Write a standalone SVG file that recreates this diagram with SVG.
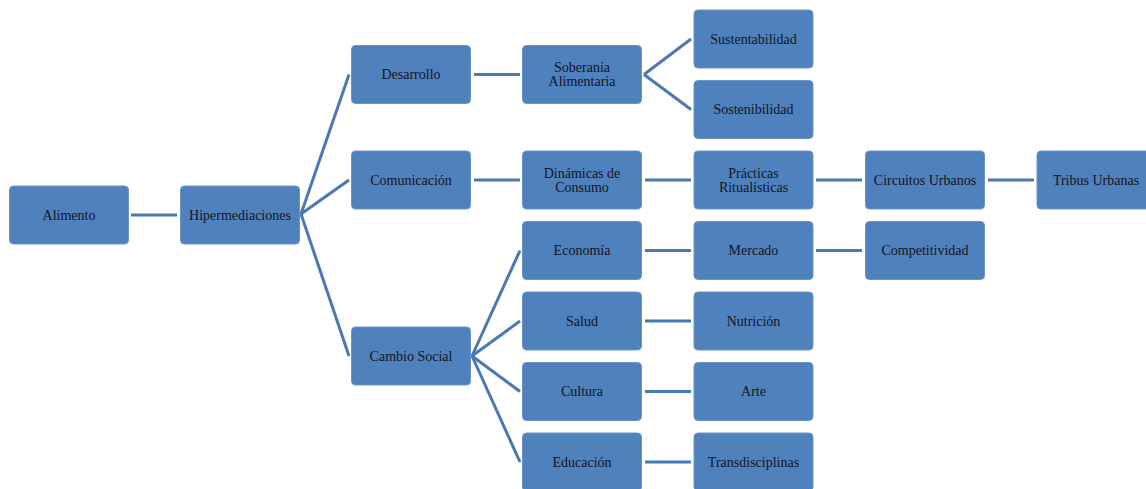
<svg xmlns="http://www.w3.org/2000/svg" width="1146" height="489" viewBox="0 0 1146 489">
<style>
.n rect{fill:#4f81bd;stroke:#6a94c8;stroke-width:1}
.n text{font-family:"Liberation Serif","DejaVu Serif",serif;font-size:14px;fill:#14141f;text-anchor:middle;dominant-baseline:central}
#connectors line{stroke:#4a78b2;stroke-width:3;fill:none}
</style>
<rect width="1146" height="489" fill="#ffffff"/>
<g id="connectors">
<line x1="131" y1="215" x2="177" y2="215"/>
<line x1="301" y1="214" x2="349" y2="74.5"/>
<line x1="301" y1="214" x2="349" y2="180"/>
<line x1="301" y1="214" x2="349" y2="356"/>
<line x1="474" y1="74.5" x2="520" y2="74.5"/>
<line x1="474" y1="180" x2="520" y2="180"/>
<line x1="472" y1="356" x2="520" y2="250.5"/>
<line x1="472" y1="356" x2="520" y2="321"/>
<line x1="472" y1="356" x2="520" y2="391.5"/>
<line x1="472" y1="356" x2="520" y2="462"/>
<line x1="644" y1="74.5" x2="691" y2="39"/>
<line x1="644" y1="74.5" x2="691" y2="109.5"/>
<line x1="645" y1="180" x2="691" y2="180"/>
<line x1="645" y1="250.5" x2="691" y2="250.5"/>
<line x1="645" y1="321" x2="691" y2="321"/>
<line x1="645" y1="391.5" x2="691" y2="391.5"/>
<line x1="645" y1="462" x2="691" y2="462"/>
<line x1="816" y1="180" x2="862" y2="180"/>
<line x1="816" y1="250.5" x2="862" y2="250.5"/>
<line x1="988" y1="180" x2="1034" y2="180"/>
</g>
<g id="alimento" class="n"><rect x="9.5" y="186" width="119" height="58" rx="4"/><text x="69" y="215">Alimento</text></g>
<g id="hipermediaciones" class="n"><rect x="180.5" y="186" width="119" height="58" rx="4"/><text x="240" y="215">Hipermediaciones</text></g>
<g id="desarrollo" class="n"><rect x="351.5" y="45.5" width="119" height="58" rx="4"/><text x="411" y="74.5">Desarrollo</text></g>
<g id="comunicacion" class="n"><rect x="351.5" y="151" width="119" height="58" rx="4"/><text x="411" y="180">Comunicación</text></g>
<g id="cambio-social" class="n"><rect x="351.5" y="327" width="119" height="58" rx="4"/><text x="411" y="356">Cambio Social</text></g>
<g id="soberania" class="n"><rect x="522.5" y="45.5" width="119" height="58" rx="4"/><text x="582" y="67.5">Soberanía</text><text x="582" y="81.5">Alimentaria</text></g>
<g id="dinamicas" class="n"><rect x="522.5" y="151" width="119" height="58" rx="4"/><text x="582" y="173">Dinámicas de</text><text x="582" y="187">Consumo</text></g>
<g id="economia" class="n"><rect x="522.5" y="221.5" width="119" height="58" rx="4"/><text x="582" y="250.5">Economía</text></g>
<g id="salud" class="n"><rect x="522.5" y="292" width="119" height="58" rx="4"/><text x="582" y="321">Salud</text></g>
<g id="cultura" class="n"><rect x="522.5" y="362.5" width="119" height="58" rx="4"/><text x="582" y="391.5">Cultura</text></g>
<g id="educacion" class="n"><rect x="522.5" y="433" width="119" height="58" rx="4"/><text x="582" y="462">Educación</text></g>
<g id="sustentabilidad" class="n"><rect x="694" y="10" width="119" height="58" rx="4"/><text x="753.5" y="39">Sustentabilidad</text></g>
<g id="sostenibilidad" class="n"><rect x="694" y="80.5" width="119" height="58" rx="4"/><text x="753.5" y="109.5">Sostenibilidad</text></g>
<g id="practicas" class="n"><rect x="694" y="151" width="119" height="58" rx="4"/><text x="753.5" y="173.5">Prácticas</text><text x="753.5" y="187">Ritualísticas</text></g>
<g id="mercado" class="n"><rect x="694" y="221.5" width="119" height="58" rx="4"/><text x="753.5" y="250.5">Mercado</text></g>
<g id="nutricion" class="n"><rect x="694" y="292" width="119" height="58" rx="4"/><text x="753.5" y="321">Nutrición</text></g>
<g id="arte" class="n"><rect x="694" y="362.5" width="119" height="58" rx="4"/><text x="753.5" y="391.5">Arte</text></g>
<g id="transdisciplinas" class="n"><rect x="694" y="433" width="119" height="58" rx="4"/><text x="753.5" y="462">Transdisciplinas</text></g>
<g id="circuitos" class="n"><rect x="865.5" y="151" width="119" height="58" rx="4"/><text x="925" y="180">Circuitos Urbanos</text></g>
<g id="competitividad" class="n"><rect x="865.5" y="221.5" width="119" height="58" rx="4"/><text x="925" y="250.5">Competitividad</text></g>
<g id="tribus" class="n"><rect x="1037" y="151" width="119" height="58" rx="4"/><text x="1096" y="180">Tribus Urbanas</text></g>
</svg>
